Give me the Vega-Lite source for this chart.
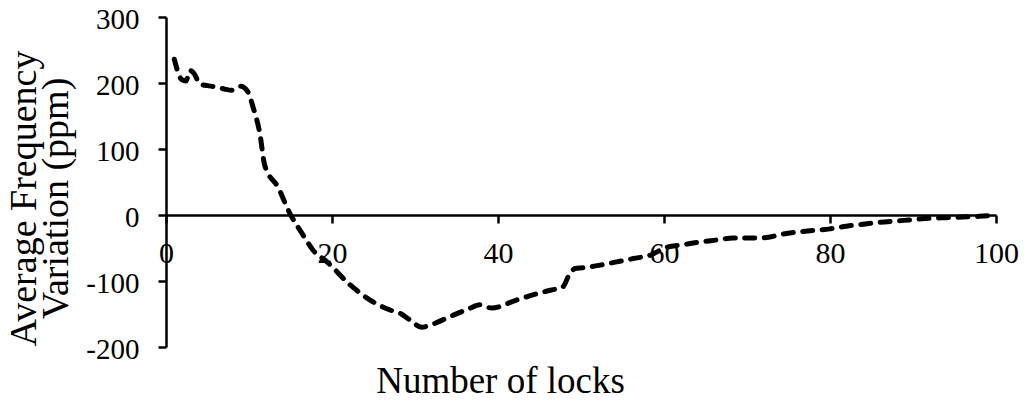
{
  "$schema": "https://vega.github.io/schema/vega-lite/v6.json",
  "width": 830,
  "height": 330,
  "autosize": {"type": "none"},
  "padding": {"left": 166, "top": 17, "right": 28, "bottom": 54},
  "background": "white",
  "config": {
    "view": {"stroke": null},
    "font": "Liberation Serif",
    "axis": {
      "labelFont": "Liberation Serif",
      "titleFont": "Liberation Serif",
      "labelColor": "black",
      "titleColor": "black"
    }
  },
  "data": {
    "values": [
      {"locks": 1, "variation": 236},
      {"locks": 1.9, "variation": 205},
      {"locks": 2.4, "variation": 203},
      {"locks": 2.9, "variation": 219},
      {"locks": 3.4, "variation": 214},
      {"locks": 4.1, "variation": 198},
      {"locks": 5, "variation": 196},
      {"locks": 6, "variation": 194},
      {"locks": 7, "variation": 191},
      {"locks": 8, "variation": 189},
      {"locks": 9, "variation": 195},
      {"locks": 9.8, "variation": 188},
      {"locks": 10.5, "variation": 163},
      {"locks": 11.3, "variation": 124},
      {"locks": 11.9, "variation": 75},
      {"locks": 13.5, "variation": 42},
      {"locks": 14.9, "variation": 3},
      {"locks": 16.5, "variation": -30},
      {"locks": 17.7, "variation": -53},
      {"locks": 19.4, "variation": -71},
      {"locks": 22.2, "variation": -106},
      {"locks": 24.6, "variation": -129},
      {"locks": 27, "variation": -144},
      {"locks": 28.2, "variation": -149},
      {"locks": 29.4, "variation": -159},
      {"locks": 30.8, "variation": -170},
      {"locks": 32, "variation": -166},
      {"locks": 34.2, "variation": -154},
      {"locks": 36.5, "variation": -142},
      {"locks": 37.8, "variation": -136},
      {"locks": 39.2, "variation": -141},
      {"locks": 42.2, "variation": -129},
      {"locks": 44.5, "variation": -120},
      {"locks": 46.3, "variation": -114},
      {"locks": 47.8, "variation": -109},
      {"locks": 48.6, "variation": -90},
      {"locks": 49.3, "variation": -81},
      {"locks": 50.2, "variation": -80},
      {"locks": 52.3, "variation": -76},
      {"locks": 54.3, "variation": -71},
      {"locks": 56.3, "variation": -66},
      {"locks": 58.3, "variation": -61},
      {"locks": 60.3, "variation": -49},
      {"locks": 62.3, "variation": -45},
      {"locks": 64.3, "variation": -41},
      {"locks": 66.3, "variation": -38},
      {"locks": 68.3, "variation": -35},
      {"locks": 70.4, "variation": -35},
      {"locks": 72.4, "variation": -34},
      {"locks": 74.3, "variation": -29},
      {"locks": 76, "variation": -26},
      {"locks": 77.6, "variation": -24},
      {"locks": 80, "variation": -21},
      {"locks": 82, "variation": -17},
      {"locks": 84, "variation": -14},
      {"locks": 86, "variation": -11},
      {"locks": 88, "variation": -9},
      {"locks": 90, "variation": -7},
      {"locks": 92, "variation": -5},
      {"locks": 94, "variation": -4},
      {"locks": 96, "variation": -3},
      {"locks": 98, "variation": -2},
      {"locks": 100, "variation": 0}
    ]
  },
  "mark": {
    "type": "line",
    "color": "black",
    "strokeWidth": 5,
    "strokeDash": [10, 9.5],
    "strokeCap": "round",
    "interpolate": "monotone"
  },
  "encoding": {
    "x": {
      "field": "locks",
      "type": "quantitative",
      "scale": {"domain": [0, 100], "nice": false, "zero": false},
      "axis": {
        "title": "Number of locks",
        "values": [0, 20, 40, 60, 80, 100],
        "labelExpr": "'' + datum.value",
        "offset": -132,
        "grid": false,
        "domainColor": "black",
        "domainWidth": 2.5,
        "tickColor": "black",
        "tickWidth": 2.5,
        "tickSize": 8,
        "labelFont": "Liberation Serif",
        "labelFontSize": 30,
        "labelColor": "black",
        "labelPadding": 15,
        "labelFlush": false,
        "labelOverlap": false,
        "titleFont": "Liberation Serif",
        "titleFontSize": 37,
        "titleFontWeight": "normal",
        "titleColor": "black",
        "titleX": 334,
        "titleY": 177,
        "titleBaseline": "alphabetic",
        "titleAlign": "center",
        "encode": {
          "labels": {
            "update": {
              "font": {"value": "Liberation Serif"},
              "fontSize": {"value": 30},
              "fill": {"value": "black"}
            }
          }
        }
      }
    },
    "y": {
      "field": "variation",
      "type": "quantitative",
      "scale": {"domain": [-200, 300], "nice": false, "zero": false},
      "axis": {
        "title": ["Average Frequency", "Variation (ppm)"],
        "values": [-200, -100, 0, 100, 200, 300],
        "labelExpr": "'' + datum.value",
        "grid": false,
        "domainColor": "black",
        "domainWidth": 2.5,
        "tickColor": "black",
        "tickWidth": 2.5,
        "tickSize": 8,
        "labelFont": "Liberation Serif",
        "labelFontSize": 29,
        "labelColor": "black",
        "labelPadding": 19,
        "labelOffset": 2,
        "labelFlush": false,
        "labelOverlap": false,
        "titleFont": "Liberation Serif",
        "titleFontSize": 38,
        "titleFontWeight": "normal",
        "titleColor": "black",
        "titleLineHeight": 32,
        "titleX": -131,
        "titleY": 181,
        "titleAngle": 270,
        "titleBaseline": "alphabetic",
        "titleAlign": "center",
        "encode": {
          "labels": {
            "update": {
              "font": {"value": "Liberation Serif"},
              "fontSize": {"value": 29},
              "fill": {"value": "black"}
            }
          }
        }
      }
    }
  }
}
